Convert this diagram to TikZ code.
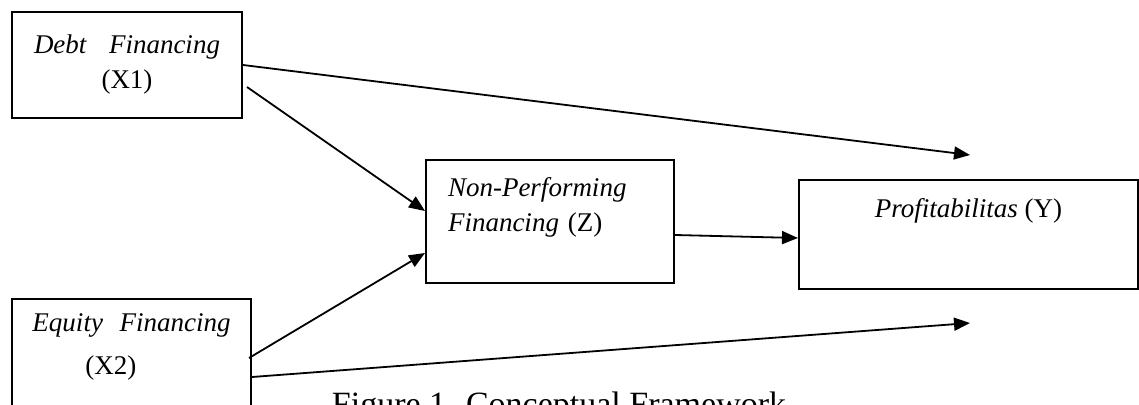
\documentclass[tikz,border=0pt]{standalone}
\usepackage{fontspec}
\setmainfont{Liberation Serif}
\usetikzlibrary{arrows.meta}

\begin{document}
\begin{tikzpicture}[x=0.5pt,y=-0.5pt,
  font=\fontsize{13.5}{17.5}\selectfont,
  n/.style={draw,line width=1pt,anchor=north west,inner sep=0pt},
  a/.style={-{Triangle[length=8pt,width=6.5pt]},line width=0.9pt}
]
\useasboundingbox (0,0) rectangle (1139,405);
\node[n,minimum width=115pt,minimum height=53pt,text width=93pt,align=center]
  (debt) at (11,11) {\textit{Debt}\hfill\textit{Financing}\\(X1)};
\node[n,minimum width=119.5pt,minimum height=66pt,text width=99pt,align=left]
  (equity) at (11,298) {\textit{Equity}\hfill\textit{Financing}\\[4pt]\hspace*{26.5pt}(X2)\\[3pt]\mbox{}};
\node[n,minimum width=124pt,minimum height=61.5pt,text width=102pt,align=left]
  (npf) at (425,159) {\textit{Non-Performing}\\\textit{Financing} (Z)\\\mbox{}};
\node[n,minimum width=169.5pt,minimum height=54.5pt,align=center]
  (prof) at (798,179) {\textit{Profitabilitas} (Y)\\[9pt]\mbox{}};
\coordinate (topend) at (970,155);
\coordinate (botend) at (970,323);
\node[anchor=base,font=\fontsize{17}{20}\selectfont] (caption) at (559,415)
  {Figure 1. Conceptual Framework};
\draw[a] (debt.east) -- (topend);
\draw[a] ([xshift=2pt,yshift=-11pt]debt.east) -- ([yshift=5.25pt]npf.west);
\draw[a] ([xshift=-1.5pt,yshift=-30pt]equity.north east) -- ([yshift=-15.75pt]npf.west);
\draw[a] ([yshift=-39.5pt]equity.north east) -- (botend);
\draw[a] ([yshift=-6.75pt]npf.east) -- ([yshift=-1.75pt]prof.west);
\end{tikzpicture}
\end{document}
